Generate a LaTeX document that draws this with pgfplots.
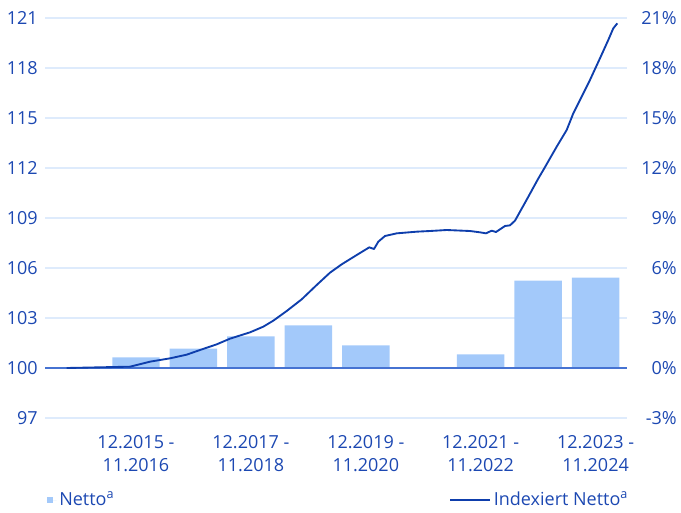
\documentclass[border=0pt]{standalone}
\usepackage{fontspec}
\setmainfont{Open Sans}
\usepackage{pgfplots}
\pgfplotsset{compat=1.18}
\definecolor{txtblue}{RGB}{28,72,178}
\definecolor{lineblue}{RGB}{14,62,172}
\definecolor{barblue}{RGB}{163,201,250}
\definecolor{gridblue}{RGB}{222,235,252}
\definecolor{baseblue}{RGB}{70,115,210}
\newcommand{\fs}{\fontsize{13.5pt}{17pt}\selectfont}
\begin{document}
\begin{tikzpicture}
\path[use as bounding box] (-33.75pt,-70.5pt) rectangle (477pt,313.5pt);
\pgfplotsset{
  common/.style={
    width=436.5pt, height=300pt, scale only axis,
    at={(0,0)}, anchor=south west,
    xmin=-1.584, xmax=8.547,
    major tick length=0pt,
    /pgf/number format/assume math mode=true,
    ticklabel style={font=\fs, text=txtblue},
    legend style={draw=none, fill=none, font=\fs, text=txtblue},
  }
}
% bars, right axis, with grid
\begin{axis}[common,
  axis x line*=bottom, x axis line style={draw=none}, xtick=\empty,
  ymin=-3, ymax=21, ytick={-3,0,...,21},
  axis y line*=right, y axis line style={draw=none},
  ymajorgrids, grid style={gridblue, line width=1pt},
  yticklabel={\pgfmathprintnumber{\tick}\%},
  yticklabel style={anchor=east, inner sep=0pt, xshift=37.5pt},
  legend style={at={(axis description cs:0,0)}, anchor=west, xshift=-2pt, yshift=-61.5pt},
  legend image code/.code={\fill[barblue] (0pt,-2.3pt) rectangle (4.6pt,2.3pt); \path (0pt,0pt) -- (7.5pt,0pt);},
]
\addplot[ybar, bar width=35.6pt, fill=barblue, draw=none] coordinates {
(0,0.64) (1,1.16) (2,1.90) (3,2.56) (4,1.36) (5,0) (6,0.82) (7,5.24) (8,5.42)};
\addlegendentry{Netto\textsuperscript{a}}
\end{axis}
% line, left axis
\begin{axis}[common,
  ymin=97, ymax=121, ytick={97,100,...,121},
  axis y line*=left, y axis line style={draw=none},
  yticklabel style={anchor=east, inner sep=0pt, xshift=-5.25pt},
  axis x line*=bottom, x axis line style={draw=none},
  xtick={0,2,4,6,8},
  xticklabels={{12.2015 -\\11.2016},{12.2017 -\\11.2018},{12.2019 -\\11.2020},{12.2021 -\\11.2022},{12.2023 -\\11.2024}},
  xticklabel style={align=center, anchor=north, inner sep=0pt, yshift=-13pt, font={\fontsize{13.5pt}{17.5pt}\selectfont}},
  legend style={at={(axis description cs:1,0)}, anchor=east, xshift=6pt, yshift=-61.5pt},
  legend image code/.code={\draw[lineblue, line width=1.4pt] (0pt,0pt) -- (30pt,0pt);},
]
\draw[baseblue, line width=1pt] (axis cs:-1.584,100) -- (axis cs:8.547,100);
\addplot[lineblue, line width=1.4pt, line join=round] coordinates {
(-1.206,100.00) (-0.923,100.02) (-0.104,100.08) (0.244,100.38) (0.592,100.58)
(0.882,100.80) (1.114,101.08) (1.405,101.42) (1.636,101.76) (1.984,102.14)
(2.216,102.48) (2.390,102.84) (2.623,103.42) (2.884,104.12) (3.145,104.98)
(3.377,105.72) (3.580,106.22) (3.842,106.78) (4.061,107.24) (4.143,107.14)
(4.218,107.58) (4.334,107.92) (4.538,108.08) (4.886,108.18) (5.117,108.22)
(5.408,108.28) (5.814,108.22) (5.988,108.14) (6.092,108.08) (6.191,108.24)
(6.266,108.16) (6.423,108.52) (6.510,108.56) (6.597,108.84) (6.801,110.10)
(7.003,111.37) (7.090,111.88) (7.323,113.28) (7.497,114.28) (7.612,115.28)
(7.728,116.08) (7.902,117.28) (8.076,118.58) (8.221,119.68) (8.308,120.38)
(8.378,120.68)};
\addlegendentry{Indexiert Netto\textsuperscript{a}}
\end{axis}
\end{tikzpicture}
\end{document}
